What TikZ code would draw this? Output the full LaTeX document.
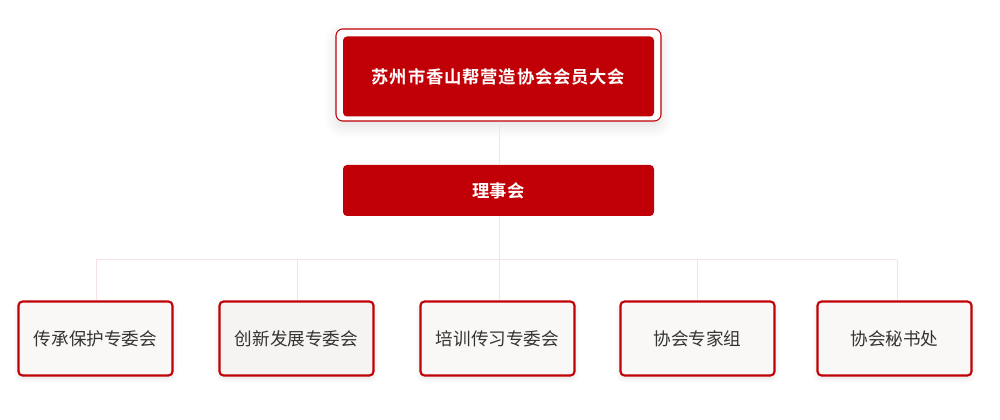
\documentclass[tikz,border=0pt]{standalone}
\usepackage{fontspec}
\setmainfont{Noto Sans CJK SC}
\newfontfamily\cjkbold{Noto Sans CJK SC Bold}
\usetikzlibrary{shadows.blur}
\definecolor{mainred}{HTML}{C00006}
\definecolor{boxfill}{HTML}{F9F8F6}
\definecolor{boxfillb}{HTML}{F5F4F2}
\definecolor{linkc}{HTML}{F6E2E4}
\definecolor{txtc}{HTML}{333333}
\begin{document}
\begin{tikzpicture}[x=0.75pt,y=-0.75pt,
  redbox/.style={fill=mainred, draw=none, rounded corners=3pt, text=white, font=\cjkbold\fontsize{13}{15}\selectfont},
  unitbox/.style={fill=boxfill, draw=mainred, line width=1.6pt, rounded corners=3pt, text=txtc,
     font=\fontsize{13.2}{15}\selectfont, minimum width=154*0.75pt, minimum height=74*0.75pt, inner sep=0pt,
     blur shadow={shadow xshift=0pt, shadow yshift=-2pt, shadow blur steps=6, shadow opacity=12, shadow blur radius=4pt}},
  link/.style={draw=linkc, line width=0.75pt}
]
\useasboundingbox (0,0) rectangle (1000,420);
\coordinate (bus) at (499,260);
\coordinate (b1) at (96,260);
\coordinate (b2) at (297,260);
\coordinate (b4) at (697,260);
\coordinate (b5) at (897,260);
\node[draw=mainred, line width=0.8pt, fill=white, rounded corners=5pt, minimum width=325*0.75pt, minimum height=92*0.75pt,
  blur shadow={shadow xshift=0pt, shadow yshift=-4pt, shadow blur steps=10, shadow opacity=12, shadow blur radius=9pt}] (outer) at (498.5,75) {};
\node[redbox, minimum width=311*0.75pt, minimum height=80*0.75pt, inner sep=0pt] (top) at (498.5,76.5)
  {\addfontfeature{LetterSpace=4.8}苏州市香山帮营造协会会员大会};
\node[redbox, minimum width=311*0.75pt, minimum height=51*0.75pt, inner sep=0pt] (board) at (498.5,190.5) {理事会};
\node[unitbox] (u1) at (95.5,338.5) {传承保护专委会};
\node[unitbox, fill=boxfillb] (u2) at (296.5,338.5) {创新发展专委会};
\node[unitbox] (u3) at (497.5,338.5) {培训传习专委会};
\node[unitbox] (u4) at (697.5,338.5) {协会专家组};
\node[unitbox] (u5) at (894.5,338.5) {协会秘书处};
\draw[link] (outer.south -| bus) -- (board.north -| bus);
\draw[link] (board.south -| bus) -- (bus);
\draw[link] (b1) -- (b5);
\draw[link] (b1) -- (b1 |- u1.north);
\draw[link] (b2) -- (b2 |- u2.north);
\draw[link] (bus) -- (bus |- u3.north);
\draw[link] (b4) -- (b4 |- u4.north);
\draw[link] (b5) -- (b5 |- u5.north);
\end{tikzpicture}
\end{document}
